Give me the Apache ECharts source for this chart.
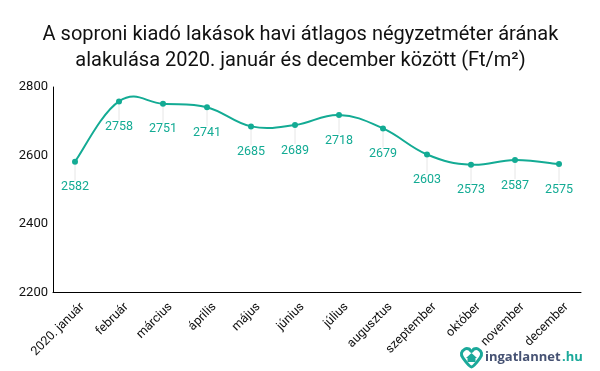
<!DOCTYPE html>
<html><head><meta charset="utf-8">
<style>html,body{margin:0;padding:0;background:#fff}#c{width:600px;height:371px}</style>
<script src="https://cdn.jsdelivr.net/npm/echarts@6/dist/echarts.min.js"></script></head>
<body><div id="c"></div>
<script>
const categories=['2020. január','február','március','április','május','június','július','augusztus','szeptember','október','november','december'];
const values=[2582,2758,2751,2741,2685,2689,2718,2679,2603,2573,2587,2575];
const yTicks=[2200,2400,2600,2800];
const titleLines=['A soproni kiadó lakások havi átlagos négyzetméter árának','alakulása 2020. január és december között (Ft/m²)'];
const teal='#13ab94';
const tension=0.2;
const chart=echarts.init(document.getElementById('c'),null,{renderer:'canvas'});
function renderSegment(params,api){
 const i=params.dataIndex;
 if(i>=values.length-1) return null;
 const pt=k=>api.coord([categories[Math.max(0,Math.min(values.length-1,k))],values[Math.max(0,Math.min(values.length-1,k))]]);
 const p0=pt(i-1),p1=pt(i),p2=pt(i+1),p3=pt(i+2);
 return {type:'bezierCurve',silent:true,shape:{
   x1:p1[0],y1:p1[1],x2:p2[0],y2:p2[1],
   cpx1:p1[0]+(p2[0]-p0[0])*tension,cpy1:p1[1]+(p2[1]-p0[1])*tension,
   cpx2:p2[0]-(p3[0]-p1[0])*tension,cpy2:p2[1]-(p3[1]-p1[1])*tension},
  style:{fill:'none',stroke:teal,lineWidth:2}};
}
chart.setOption({
 animation:false,
 textStyle:{fontFamily:'Roboto'},
 title:{text:titleLines.join('\n'),left:295.5,top:17,textAlign:'center',
  textStyle:{fontFamily:'Roboto',fontSize:20,fontWeight:'normal',color:'#111',lineHeight:26}},
 grid:{left:53,right:19,top:87,bottom:78.5},
 xAxis:{type:'category',data:categories,boundaryGap:true,
  axisLine:{lineStyle:{color:'#000',width:1}},axisTick:{show:false},
  axisLabel:{rotate:45,fontSize:12.5,color:'#111',margin:5,interval:0,verticalAlign:'top',padding:[4,0,0,0]}},
 yAxis:{type:'value',min:yTicks[0],max:yTicks[3],interval:200,
  axisLine:{show:true,lineStyle:{color:'#000',width:1}},axisTick:{show:false},splitLine:{show:false},
  axisLabel:{fontSize:13,color:'#111',margin:5,padding:[2,0,0,0],formatter:v=>String(v)}},
 series:[
  {type:'custom',data:values.map((v,i)=>[categories[i],v]),renderItem:renderSegment,silent:true,z:2},
  {type:'line',data:values,symbol:'circle',symbolSize:6,z:3,
  lineStyle:{width:0},itemStyle:{color:teal},
  label:{show:true,position:'bottom',distance:4,fontSize:12.5,color:teal},
  labelLayout:{dy:12},
  labelLine:{show:true,lineStyle:{color:'#e6e6e6',width:1}}}],
 graphic:[
  {type:'polygon',shape:{smooth:0.25,points:[[471.5,367],[463,358],[461.5,353],[465,349],[469,349],[471.5,351.5],[474,349],[478,349],[481.5,353],[480,358]]},
   style:{fill:'none',stroke:'#1ba99a',lineWidth:3}},
  {type:'polygon',shape:{points:[[471.5,353],[477,358],[475.5,358],[475.5,362],[467.5,362],[467.5,358],[466,358]]},style:{fill:'#1ba99a'}},
  {type:'text',left:485,top:351,style:{text:'ingatlannet',font:'bold 13px "Open Sans"',fill:'#465273'}},
  {type:'text',left:562,top:351,style:{text:'.hu',font:'bold 13px "Open Sans"',fill:'#1ba99a'}}
 ]
});
</script></body></html>
